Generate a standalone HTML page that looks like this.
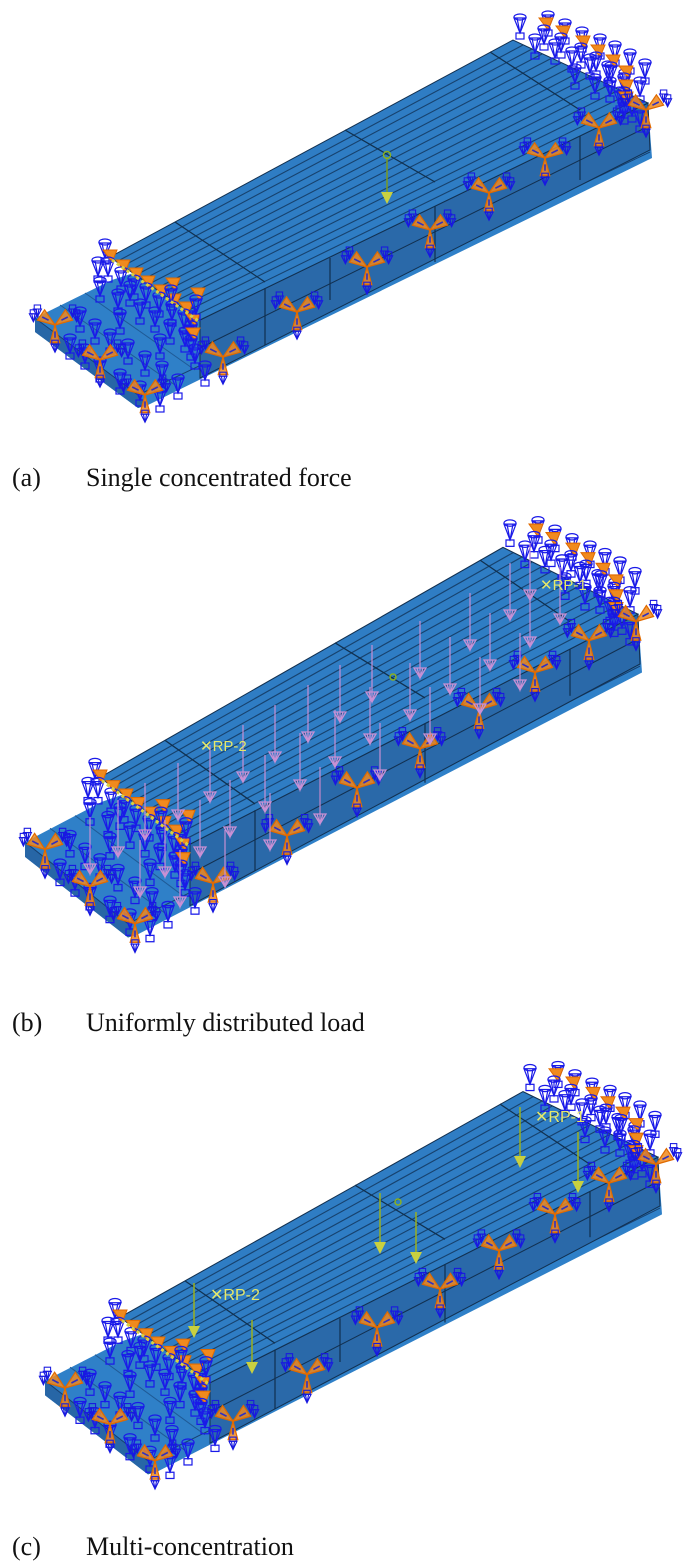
<!DOCTYPE html>
<html><head><meta charset="utf-8"><style>
html,body{margin:0;padding:0;background:#fff;}
svg{display:block;}
.cap{font-family:"Liberation Serif",serif;font-size:26px;fill:#111;}
.rp{font-family:"Liberation Sans",sans-serif;font-size:15px;fill:#e6e86a;}
</style></head><body>
<svg width="700" height="1565" viewBox="0 0 700 1565" xmlns="http://www.w3.org/2000/svg">
<defs>
 <g id="box">
  <path d="M-5,-4 L5,-4 L0,6 Z M-2,-4 L0,6 L2,-4" fill="none" stroke="#1818e0" stroke-width="1.4"/>
  <rect x="-4" y="-9" width="8" height="5" fill="none" stroke="#1818e0" stroke-width="1.3"/>
 </g>
 <g id="sup">
  <g transform="scale(0.8)">
  <polygon points="0,0 -22,-6 -13,-19" fill="#f08a1e" fill-opacity="0.85" stroke="#e06a00" stroke-width="1.5"/>
  <polygon points="0,0 22,-6 13,-19" fill="#f08a1e" fill-opacity="0.85" stroke="#e06a00" stroke-width="1.5"/>
  <polygon points="0,0 -6,22 6,22" fill="#f08a1e" fill-opacity="0.85" stroke="#e06a00" stroke-width="1.5"/>
  <path d="M-16,-10 L-8,-6 M16,-10 L8,-6 M0,8 V16" stroke="#3030c0" stroke-width="2"/>
  <use href="#box" x="-22" y="-16"/><use href="#box" x="22" y="-16"/><use href="#box" x="0" y="28"/>
  <use href="#box" x="-27" y="-10"/><use href="#box" x="27" y="-10"/>
  </g>
 </g>
 <g id="cone">
  <path d="M-6,-7 L6,-7 L0,8 Z M-3,-7 L0,8 L3,-7" fill="none" stroke="#1a1ae8" stroke-width="1.2"/>
  <ellipse cx="0" cy="-8" rx="6" ry="3" fill="none" stroke="#1a1ae8" stroke-width="1.2"/>
  <rect x="-4" y="8" width="8" height="6" fill="none" stroke="#1a1ae8" stroke-width="1.2"/>
 </g>
 <g id="osup">
  <polygon points="0,0 -9,-12 5,-12" fill="#f08a1e" stroke="#e06a00" stroke-width="1"/>
  <use href="#cone" x="-4" y="6"/>
 </g>
 <g id="beam">
  <polygon points="35,318 112,280 648,105 652,158 148,405 138,408 35,332" fill="#2f80c8"/>
  <polygon points="35,318 138,395 148,405 138,408 35,332" fill="#2766a6"/>
  <line x1="35" y1="318" x2="138" y2="395" stroke="#174070" stroke-width="1"/>
  <line x1="138" y1="395" x2="650" y2="152" stroke="#174070" stroke-width="1"/>
  <line x1="60" y1="305" x2="175" y2="385" stroke="#1f5a96" stroke-width="1"/>
  <line x1="85" y1="293" x2="195" y2="370" stroke="#1f5a96" stroke-width="1"/>
  <polygon points="200,320 648,103 650,150 200,378" fill="#2a69a9" stroke="#123050" stroke-width="1"/>
  <line x1="200" y1="348" x2="649" y2="126" stroke="#123050" stroke-width="1"/>
  <polygon points="110,257 513,40 648,103 200,320" fill="#2f7dc4" stroke="#123050" stroke-width="1"/>
  <g stroke="#17426e" stroke-width="1.1">
   <line x1="116" y1="262" x2="523" y2="45"/>
   <line x1="123" y1="266" x2="532" y2="49"/>
   <line x1="129" y1="271" x2="542" y2="54"/>
   <line x1="136" y1="275" x2="552" y2="58"/>
   <line x1="142" y1="280" x2="561" y2="63"/>
   <line x1="149" y1="284" x2="571" y2="67"/>
   <line x1="155" y1="289" x2="580" y2="72"/>
   <line x1="162" y1="293" x2="590" y2="76"/>
   <line x1="168" y1="298" x2="600" y2="81"/>
   <line x1="174" y1="302" x2="609" y2="85"/>
   <line x1="181" y1="307" x2="619" y2="90"/>
   <line x1="187" y1="311" x2="629" y2="94"/>
   <line x1="194" y1="316" x2="638" y2="99"/>
  </g>
  <g stroke="#10304f" stroke-width="1.2" fill="none">
   <path d="M175,222 L265,282"/>
   <path d="M345,130 L435,182"/>
   <path d="M490,52 L580,110"/>
   <line x1="265" y1="288" x2="265" y2="345"/>
   <line x1="435" y1="206" x2="435" y2="262"/>
   <line x1="580" y1="136" x2="580" y2="180"/>
   <line x1="330" y1="258" x2="330" y2="300"/>
  </g>
  <g>
   <use href="#cone" x="520" y="25"/><use href="#cone" x="535" y="45"/><use href="#cone" x="548" y="22"/>
   <use href="#cone" x="555" y="50"/><use href="#cone" x="565" y="30"/><use href="#cone" x="572" y="58"/>
   <use href="#cone" x="582" y="38"/><use href="#cone" x="590" y="65"/><use href="#cone" x="600" y="45"/>
   <use href="#cone" x="608" y="72"/><use href="#cone" x="615" y="52"/><use href="#cone" x="625" y="80"/>
   <use href="#cone" x="630" y="60"/><use href="#cone" x="640" y="88"/><use href="#cone" x="645" y="70"/>
   <use href="#cone" x="620" y="98"/><use href="#cone" x="632" y="108"/><use href="#cone" x="610" y="88"/>
   <use href="#cone" x="575" y="75"/><use href="#cone" x="595" y="85"/><use href="#cone" x="640" y="118"/>
   <use href="#osup" x="548" y="30"/><use href="#osup" x="565" y="38"/><use href="#osup" x="585" y="48"/>
   <use href="#osup" x="600" y="57"/><use href="#osup" x="615" y="67"/><use href="#osup" x="628" y="78"/>
   <use href="#osup" x="628" y="92"/><use href="#osup" x="628" y="104"/>
   <use href="#sup" x="646" y="110"/>
  </g>
  <g>
   <use href="#cone" x="98" y="268"/><use href="#cone" x="100" y="288"/><use href="#cone" x="105" y="250"/>
   <use href="#cone" x="118" y="300"/><use href="#cone" x="130" y="292"/><use href="#cone" x="140" y="310"/>
   <use href="#cone" x="155" y="318"/><use href="#cone" x="170" y="330"/><use href="#cone" x="185" y="338"/>
   <use href="#cone" x="195" y="355"/><use href="#cone" x="205" y="372"/><use href="#cone" x="80" y="318"/>
   <use href="#cone" x="95" y="330"/><use href="#cone" x="110" y="340"/><use href="#cone" x="128" y="350"/>
   <use href="#cone" x="145" y="362"/><use href="#cone" x="162" y="372"/><use href="#cone" x="178" y="385"/>
   <use href="#cone" x="85" y="355"/><use href="#cone" x="100" y="368"/><use href="#cone" x="120" y="380"/>
   <use href="#cone" x="140" y="392"/><use href="#cone" x="160" y="398"/><use href="#cone" x="70" y="345"/>
   <use href="#cone" x="120" y="320"/><use href="#cone" x="160" y="345"/><use href="#cone" x="190" y="318"/>
   <use href="#osup" x="112" y="262"/><use href="#osup" x="125" y="272"/><use href="#osup" x="138" y="280"/>
   <use href="#osup" x="150" y="288"/><use href="#osup" x="163" y="297"/><use href="#osup" x="176" y="306"/>
   <use href="#osup" x="188" y="314"/><use href="#osup" x="195" y="326"/><use href="#osup" x="195" y="340"/>
   <use href="#osup" x="200" y="300"/><use href="#osup" x="175" y="290"/>
   <path d="M112,260 L200,322" stroke="#d8d040" stroke-width="3" stroke-dasharray="3,3"/>
   <use href="#sup" x="55" y="325"/><use href="#sup" x="100" y="360"/><use href="#sup" x="145" y="395"/>
   <use href="#sup" x="223" y="357"/>
  </g>
  <use href="#sup" x="297" y="312"/>
  <use href="#sup" x="367" y="267"/>
  <use href="#sup" x="430" y="230"/>
  <use href="#sup" x="489" y="193"/>
  <use href="#sup" x="545" y="158"/>
  <use href="#sup" x="599" y="128"/>
 </g>
 <g id="parr">
  <line x1="0" y1="-55" x2="0" y2="0" stroke="#c890d4" stroke-width="1.2"/>
  <path d="M-6,-8 L6,-8 L0,2 Z M-3,-8 L0,2 L3,-8" fill="none" stroke="#c890d4" stroke-width="1.3"/>
 </g>
</defs>

<use href="#beam"/>
<line x1="387" y1="157" x2="387" y2="198" stroke="#7a9a20" stroke-width="1.5"/>
<circle cx="387" cy="155" r="3.5" fill="none" stroke="#8ab020" stroke-width="1.5"/>
<path d="M381,192 L393,192 L387,204 Z" fill="#c8d040"/>
<text class="cap" x="12" y="486">(a)</text>
<text class="cap" x="86" y="486">Single concentrated force</text>

<g transform="translate(-10,505) scale(1,1.06)">
 <use href="#beam"/>
</g>
<g>
 <use href="#parr" x="90" y="872"/><use href="#parr" x="118" y="855"/><use href="#parr" x="145" y="838"/>
 <use href="#parr" x="178" y="818"/><use href="#parr" x="210" y="800"/><use href="#parr" x="243" y="780"/>
 <use href="#parr" x="275" y="760"/><use href="#parr" x="308" y="740"/><use href="#parr" x="340" y="720"/>
 <use href="#parr" x="372" y="700"/><use href="#parr" x="420" y="676"/><use href="#parr" x="470" y="648"/>
 <use href="#parr" x="510" y="618"/><use href="#parr" x="530" y="598"/>
 <use href="#parr" x="140" y="895"/><use href="#parr" x="165" y="875"/><use href="#parr" x="200" y="855"/>
 <use href="#parr" x="230" y="835"/><use href="#parr" x="265" y="810"/><use href="#parr" x="300" y="788"/>
 <use href="#parr" x="335" y="765"/><use href="#parr" x="370" y="742"/><use href="#parr" x="410" y="718"/>
 <use href="#parr" x="450" y="692"/><use href="#parr" x="490" y="668"/><use href="#parr" x="530" y="645"/>
 <use href="#parr" x="560" y="622"/>
 <use href="#parr" x="180" y="905"/><use href="#parr" x="225" y="885"/><use href="#parr" x="270" y="848"/>
 <use href="#parr" x="320" y="822"/><use href="#parr" x="380" y="778"/><use href="#parr" x="430" y="742"/>
 <use href="#parr" x="480" y="712"/><use href="#parr" x="520" y="688"/>
</g>
<text class="rp" x="200" y="751">✕RP-2</text>
<text class="rp" x="540" y="590">✕RP-1</text>
<circle cx="393" cy="677" r="3" fill="none" stroke="#8ab020" stroke-width="1.5"/>
<text class="cap" x="12" y="1031">(b)</text>
<text class="cap" x="86" y="1031">Uniformly distributed load</text>

<g transform="translate(10,1050) scale(1,1.04)">
 <use href="#beam"/>
</g>
<g stroke="#9ab020" stroke-width="1.5">
 <line x1="194" y1="1283" x2="194" y2="1330"/><line x1="252" y1="1320" x2="252" y2="1366"/>
 <line x1="380" y1="1193" x2="380" y2="1246"/><line x1="416" y1="1212" x2="416" y2="1256"/>
 <line x1="520" y1="1107" x2="520" y2="1160"/><line x1="578" y1="1132" x2="578" y2="1185"/>
</g>
<g fill="#c8d040">
 <path d="M188,1326 L200,1326 L194,1338 Z"/><path d="M246,1362 L258,1362 L252,1374 Z"/>
 <path d="M374,1242 L386,1242 L380,1254 Z"/><path d="M410,1252 L422,1252 L416,1264 Z"/>
 <path d="M514,1156 L526,1156 L520,1168 Z"/><path d="M572,1181 L584,1181 L578,1193 Z"/>
</g>
<circle cx="398" cy="1202" r="3" fill="none" stroke="#8ab020" stroke-width="1.5"/>
<text class="rp" x="210" y="1300" style="font-size:16px">✕RP-2</text>
<text class="rp" x="535" y="1122" style="font-size:16px">✕RP-1</text>
<text class="cap" x="12" y="1555">(c)</text>
<text class="cap" x="86" y="1555">Multi-concentration</text>
</svg>
</body></html>
